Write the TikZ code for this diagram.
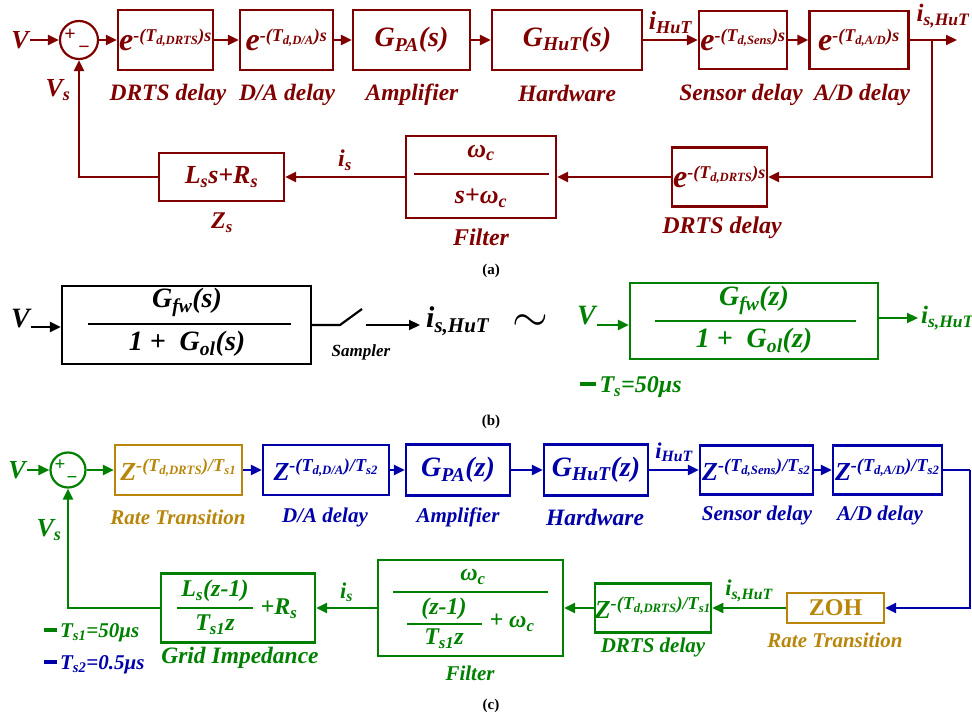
\documentclass[tikz,border=0pt]{standalone}
\usepackage{fontspec}
\setmainfont{Liberation Serif}
\usetikzlibrary{arrows.meta,positioning}
\definecolor{xmaroon}{RGB}{128,0,0}
\definecolor{xgreen}{RGB}{0,128,0}
\definecolor{xnavy}{RGB}{0,0,170}
\definecolor{xochre}{RGB}{184,134,11}
\newcommand{\fbi}[1]{\fontsize{#1}{#1}\selectfont\bfseries\itshape}
\newcommand{\hix}[1]{\textsuperscript{#1}}
\newcommand{\ehix}[1]{\textsuperscript{\fontsize{18}{18}\selectfont #1}}
\newcommand{\lox}[1]{\textsubscript{#1}}

\begin{document}
\begin{tikzpicture}[x=1pt, y=-1pt,
  blk/.style={draw, line width=2.2pt, inner sep=0pt, font=\fbi{26}},
  eblk/.style={blk, font=\fbi{32}},
  lbl/.style={inner sep=1pt, font=\fbi{23.5}},
  lbls/.style={inner sep=1pt, font=\fbi{21}},
  sym/.style={inner sep=1pt, font=\fbi{26}},
  junc/.style={draw, circle, line width=2.2pt, inner sep=0pt, minimum size=38pt},
  sgn/.style={inner sep=0pt, font=\fontsize{20}{20}\selectfont\bfseries},
  captxt/.style={font=\fontsize{15}{15}\selectfont\bfseries, text=black},
  fbar/.style={line width=2pt},
  wire/.style={line width=2.2pt},
  arr/.style={wire, -{Triangle[length=11pt, width=10pt]}}
]
\useasboundingbox (0,0) rectangle (972,719);

% (a) continuous-time loop
\begin{scope}[color=xmaroon]
  \node[sym] (vA) at (20,40) {V};
  \node[junc] (sumA) at (79,40) {};
  \node[sgn] (plA) at (70,35) {+};
  \node[sgn] (miA) at (84,50) {−};
  \node[eblk, minimum width=95, minimum height=60] (drtsA) at (165.5,40) {e\ehix{-(T\lox{d,DRTS})s}};
  \node[eblk, minimum width=93, minimum height=60] (daA) at (286.5,40) {e\ehix{-(T\lox{d,D/A})s}};
  \node[blk, minimum width=117, minimum height=60, font=\fbi{28}] (paA) at (411.5,40) {G\lox{PA}(s)};
  \node[blk, minimum width=150, minimum height=60, font=\fbi{28}] (hutA) at (567,40) {G\lox{HuT}(s)};
  \node[eblk, minimum width=88, minimum height=58] (sensA) at (743,40) {e\ehix{-(T\lox{d,Sens})s}};
  \node[eblk, minimum width=99, minimum height=58] (adA) at (859,40) {e\ehix{-(T\lox{d,A/D})s}};

  \node[lbl] (tDrtsA) at (168,95) {DRTS delay};
  \node[lbl] (tDaA) at (287,95) {D/A delay};
  \node[lbl] (tPaA) at (412,95) {Amplifier};
  \node[lbl] (tHutA) at (567,93) {Hardware};
  \node[lbl] (tSensA) at (741,95) {Sensor delay};
  \node[lbl] (tAdA) at (862,95) {A/D delay};
  \node[sym] (vsA) at (58,90) {V\lox{s}};

  \node[eblk, minimum width=95, minimum height=59] (drts2A) at (719.5,177) {e\ehix{-(T\lox{d,DRTS})s}};
  \node[blk, minimum width=150, minimum height=82] (filtA) at (481,177) {};
  \node[sym] (numA) at (481,153) {ω\lox{c}};
  \node[sym] (denA) at (481,198) {s+ω\lox{c}};
  \draw[fbar] (414,174) -- (549,174);
  \node[blk, minimum width=125, minimum height=48] (zsA) at (221.5,177) {L\lox{s}s+R\lox{s}};
  \node[lbl, font=\fbi{24}] (tDrts2A) at (722,228) {DRTS delay};
  \node[lbl, font=\fbi{24}] (tFiltA) at (481,237) {Filter};
  \node[lbl, font=\fbi{24}] (tZsA) at (222,223) {Z\lox{s}};

  \coordinate (outA) at (957,40);
  \coordinate (brA) at (932,40);
  \node[sym, font=\fbi{25}] (isHutA) at (943,16) {i\lox{s,HuT}};

  \draw[arr] (vA) -- (sumA);
  \draw[arr] (sumA) -- (drtsA);
  \draw[arr] (drtsA) -- (daA);
  \draw[arr] (daA) -- (paA);
  \draw[arr] (paA) -- (hutA);
  \draw[arr] (hutA) -- node[above=2pt, font=\fbi{26}] (iHutA) {i\lox{HuT}} (sensA);
  \draw[arr] (sensA) -- (adA);
  \draw[arr] (adA) -- (outA);
  \draw[arr] (brA) |- (drts2A);
  \draw[arr] (drts2A) -- (filtA);
  \draw[arr] (filtA) -- node[above=2pt, font=\fbi{24}] (isA) {i\lox{s}} (zsA);
  \draw[arr] (zsA) -| (sumA);
\end{scope}
\node[captxt] (capA) at (491,271) {(a)};

% (b) sampled equivalent
\node[sym, font=\fbi{28}, anchor=base east] (vB) at (31,327) {V};
\node[blk, minimum width=249, minimum height=78] (gcB) at (186.5,325) {};
\node[sym, font=\fbi{28}] (numB) at (187,302) {G\lox{fw}(s)};
\draw[fbar] (88,324) -- (291,324);
\node[sym, font=\fbi{28}] (denB) at (187,344) {1 +~~G\lox{ol}(s)};
\coordinate (swA) at (340,325);
\coordinate (swB) at (362,309);
\coordinate (swC) at (366,325);
\node[font=\fbi{17}] (tSampB) at (361,352) {Sampler};
\node[sym, font=\fbi{30}, anchor=west, inner sep=6pt] (isB) at (420,321) {i\lox{s,HuT}};
\node (simB) at (530,323) {\scalebox{4.6}{$\sim$}};
\draw[arr] (vB.base east) -- (vB.base east -| gcB.west);
\draw[wire] (gcB.east |- swA) -- (swA) -- (swB);
\draw[arr] (swC) -- (swC -| isB.west);

\begin{scope}[color=xgreen]
  \node[sym, font=\fbi{28}, anchor=base east] (vB2) at (597,325) {V};
  \node[blk, minimum width=248, minimum height=76] (gdB) at (754,321) {};
  \node[sym, font=\fbi{28}] (numB2) at (754,300) {G\lox{fw}(z)};
  \draw[fbar] (655,321) -- (856,321);
  \node[sym, font=\fbi{28}] (denB2) at (754,341) {1 +~~G\lox{ol}(z)};
  \node[sym, font=\fbi{25}, anchor=west, inner sep=3pt] (isB2) at (918,318) {i\lox{s,HuT}};
  \draw[arr] (vB2.base east) -- (vB2.base east -| gdB.west);
  \draw[arr] (gdB.east |- isB2.west) -- (isB2.west);
  \node[anchor=west, font=\fbi{24}] (tsB) at (576,387) {\rule[0.28em]{16pt}{4pt}\,T\lox{s}=50μs};
\end{scope}
\node[captxt] (capB) at (491,422) {(b)};

% (c) multi-rate discrete loop
\node[sym, xgreen] (vC) at (17,470) {V};
\node[junc, xgreen, minimum size=35] (sumC) at (68,470) {};
\node[sgn, xgreen, font=\fontsize{19}{19}\selectfont\bfseries] (plC) at (60,465) {+};
\node[sgn, xgreen, font=\fontsize{19}{19}\selectfont\bfseries] (miC) at (72,480) {−};
\node[sym, xgreen] (vsC) at (49,530) {V\lox{s}};

\node[blk, xochre, minimum width=127, minimum height=50] (rtC) at (178.5,470) {Z\hix{-(T\lox{d,DRTS})/T\lox{s1}}};
\node[blk, xnavy, minimum width=126, minimum height=50] (daC) at (326,470) {Z\hix{-(T\lox{d,D/A})/T\lox{s2}}};
\node[blk, xnavy, minimum width=104, minimum height=51, font=\fbi{28}] (paC) at (458,470) {G\lox{PA}(z)};
\node[blk, xnavy, minimum width=104, minimum height=51, font=\fbi{28}] (hutC) at (596,470) {G\lox{HuT}(z)};
\node[blk, xnavy, minimum width=113, minimum height=49] (sensC) at (756.5,470) {Z\hix{-(T\lox{d,Sens})/T\lox{s2}}};
\node[blk, xnavy, minimum width=109, minimum height=49] (adC) at (887.5,470) {Z\hix{-(T\lox{d,A/D})/T\lox{s2}}};

\node[lbls, xochre] (tRtC) at (178,517) {Rate Transition};
\node[lbls, xnavy] (tDaC) at (325,517) {D/A delay};
\node[lbls, xnavy] (tPaC) at (458,517) {Amplifier};
\node[lbl, xnavy] (tHutC) at (595,517) {Hardware};
\node[lbls, xnavy] (tSensC) at (757,515) {Sensor delay};
\node[lbls, xnavy] (tAdC) at (880,515) {A/D delay};

\node[blk, xochre, minimum width=97, minimum height=30, font=\fontsize{24}{24}\selectfont\bfseries] (zohC) at (835.5,608) {ZOH};
\node[blk, xgreen, minimum width=116, minimum height=49] (drtsC) at (653,608) {Z\hix{-(T\lox{d,DRTS})/T\lox{s1}}};
\node[blk, xgreen, minimum width=185, minimum height=96] (filtC) at (470.5,608) {};
\node[sym, xgreen, font=\fbi{24}] (numC) at (473,577) {ω\lox{c}};
\draw[fbar, xgreen] (393,592) -- (548,592);
\node[sym, xgreen, font=\fbi{24}] (zmC) at (444,609) {(z-1)};
\draw[fbar, xgreen] (407,624) -- (482,624);
\node[sym, xgreen, font=\fbi{24}] (tzC) at (444,639) {T\lox{s1}z};
\node[sym, xgreen, font=\fbi{24}] (pwC) at (512,623) {+ ω\lox{c}};
\node[blk, xgreen, minimum width=154, minimum height=69] (gridC) at (238,608) {};
\node[sym, xgreen, font=\fbi{24}] (lzC) at (215,591) {L\lox{s}(z-1)};
\draw[fbar, xgreen] (177,608) -- (253,608);
\node[sym, xgreen, font=\fbi{24}] (tz2C) at (215,625) {T\lox{s1}z};
\node[sym, xgreen, font=\fbi{24}] (rsC) at (279,609) {+R\lox{s}};

\node[lbls, xochre] (tZohC) at (835,640) {Rate Transition};
\node[lbls, xgreen] (tDrtsC) at (653,647) {DRTS delay};
\node[lbls, xgreen] (tFiltC) at (470,673) {Filter};
\node[lbl, xgreen] (tGridC) at (240,658) {Grid Impedance};

\node[anchor=west, font=\fbi{21}, xgreen] (ts1C) at (40,633) {\rule[0.28em]{13pt}{4pt}\,T\lox{s1}=50μs};
\node[anchor=west, font=\fbi{21}, xnavy] (ts2C) at (40,665) {\rule[0.28em]{13pt}{4pt}\,T\lox{s2}=0.5μs};

\coordinate (rcC) at (970,470);
\draw[arr, xgreen] (vC) -- (sumC);
\draw[arr, xgreen] (sumC) -- (rtC);
\draw[arr, xnavy] (rtC) -- (daC);
\draw[arr, xnavy] (daC) -- (paC);
\draw[arr, xnavy] (paC) -- (hutC);
\draw[arr, xnavy] (hutC) -- node[above=4pt, font=\fbi{22.5}] (iHutC) {i\lox{HuT}} (sensC);
\draw[arr, xnavy] (sensC) -- (adC);
\draw[wire, xnavy] (adC) -- (rcC);
\draw[arr, xnavy] (rcC) |- (zohC);
\draw[arr, xgreen] (zohC) -- node[above=2pt, font=\fbi{22.5}] (isHutC) {i\lox{s,HuT}} (drtsC);
\draw[arr, xgreen] (drtsC) -- (filtC);
\draw[arr, xgreen] (filtC) -- node[above=2pt, font=\fbi{22.5}] (isC) {i\lox{s}} (gridC);
\draw[arr, xgreen] (gridC) -| (sumC);
\node[captxt] (capC) at (491,706) {(c)};
\end{tikzpicture}
\end{document}
